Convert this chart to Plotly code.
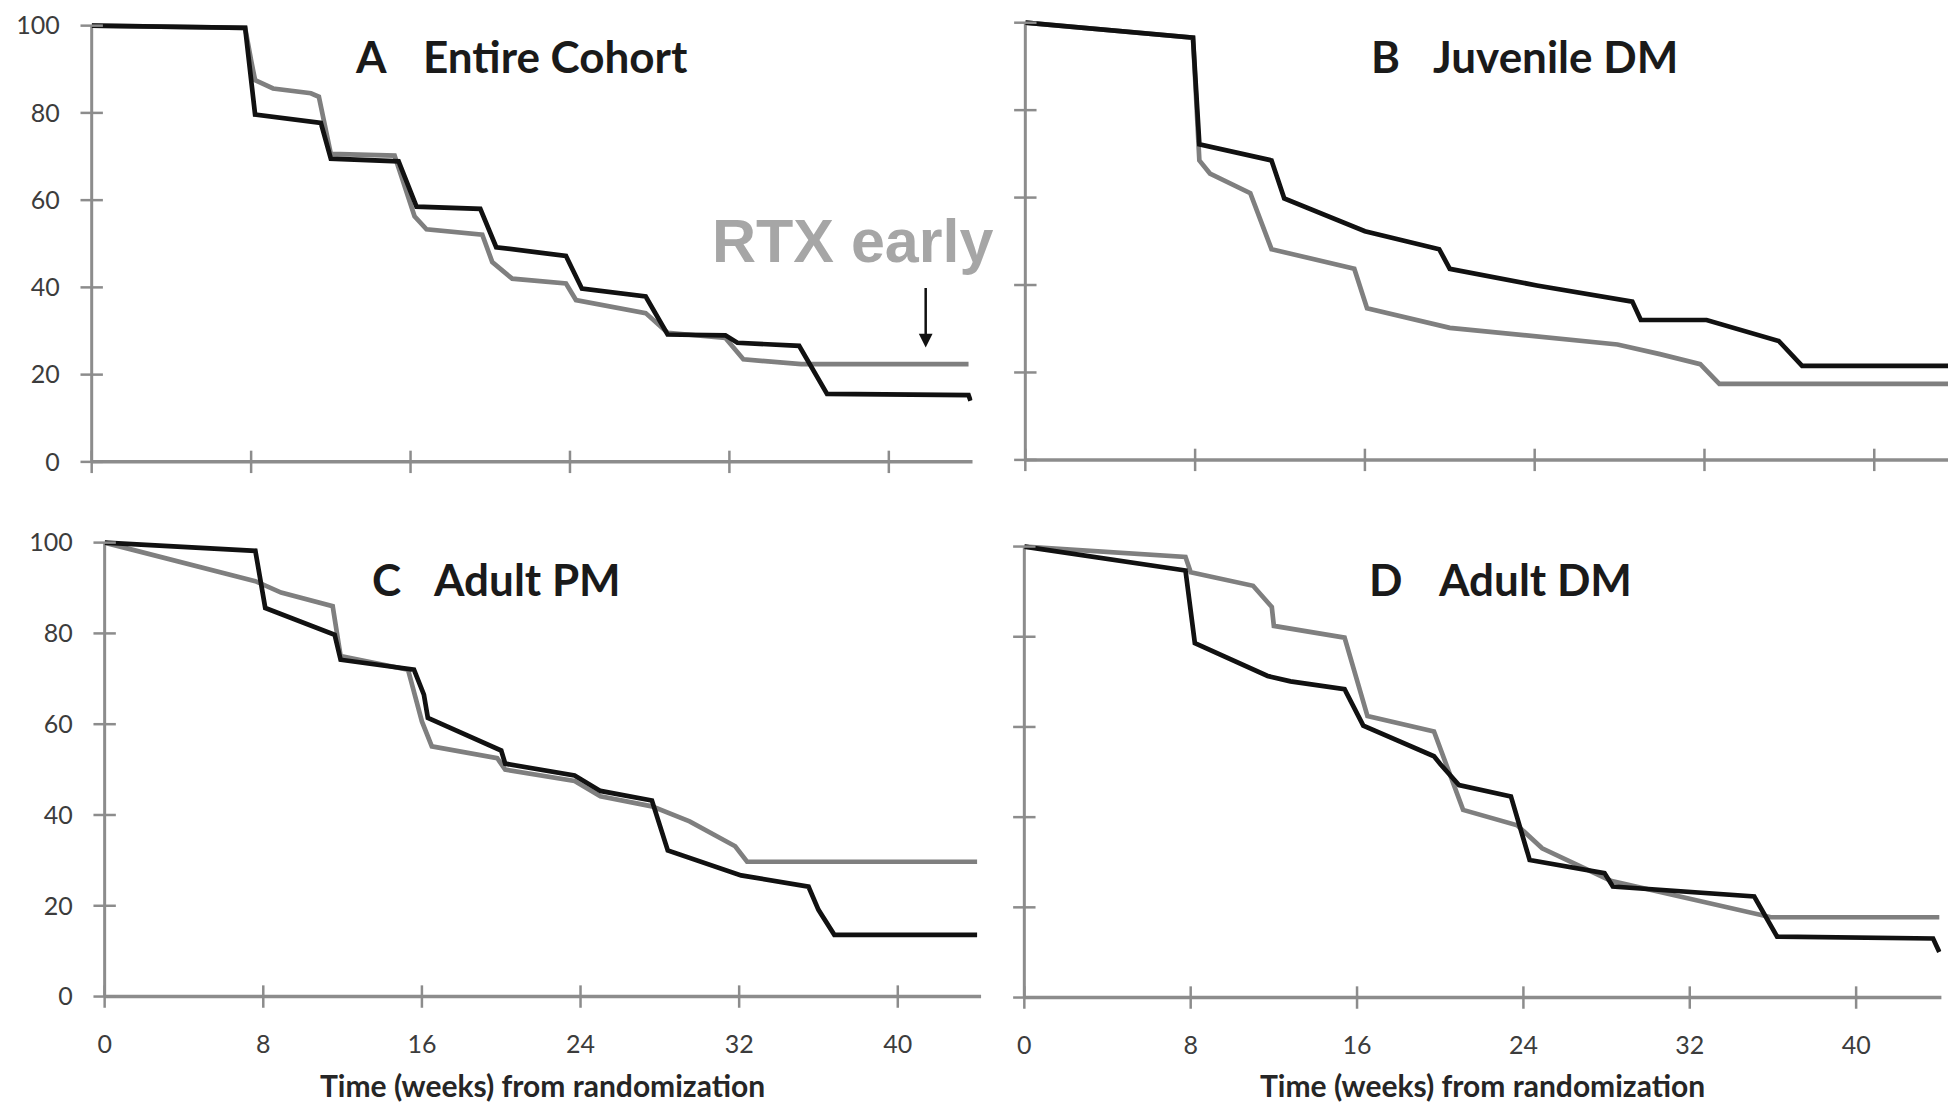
import plotly.graph_objects as go

# ---------------------------------------------------------------
# Kaplan-Meier style curves: % of patients not yet meeting the
# definition of improvement, by time from randomization (weeks)
# "early" = RTX early arm (grey), "late" = RTX late arm (black)
# ---------------------------------------------------------------
WEEK_TICKS = [0, 8, 16, 24, 32, 40]
PCT_TICKS = [0, 20, 40, 60, 80, 100]
AXIS_TITLE = "Time (weeks) from randomization"

# A - Entire cohort
A_late_wk = [0, 7.7, 8.2, 11.5, 12.0, 15.4, 16.3, 19.5, 20.3, 23.8, 24.6, 27.8,
             28.9, 31.8, 32.4, 35.5, 36.9, 44.0, 44.1]
A_late_pct = [100, 99.5, 79.6, 77.7, 69.5, 68.9, 58.5, 58.0, 49.2, 47.2, 39.7, 37.9,
              29.2, 29.0, 27.3, 26.6, 15.6, 15.3, 14.0]
A_early_wk = [0, 7.7, 8.0, 8.2, 9.1, 11.0, 11.4, 12.0, 15.2, 16.2, 16.8, 19.6, 20.1,
              21.1, 23.8, 24.3, 27.8, 28.9, 31.8, 32.7, 35.6, 44.0]
A_early_pct = [100, 99.5, 92.0, 87.5, 85.6, 84.5, 83.7, 70.6, 70.2, 56.3, 53.3, 52.1,
               45.8, 42.0, 40.9, 37.1, 34.1, 29.6, 28.4, 23.5, 22.4, 22.4]

# B - Juvenile DM
B_late_wk = [0, 7.9, 8.2, 11.6, 12.2, 16.0, 19.5, 20.0, 24.1, 28.6, 29.0, 32.1,
             35.5, 36.6, 43.5]
B_late_pct = [100, 96.6, 72.2, 68.5, 59.8, 52.3, 48.2, 43.7, 39.9, 36.2, 32.0, 32.0,
              27.2, 21.5, 21.5]
B_early_wk = [0, 7.9, 8.2, 8.7, 10.6, 11.6, 15.5, 16.1, 20.0, 24.1, 27.9, 29.9,
              31.8, 32.7, 43.5]
B_early_pct = [100, 96.6, 68.5, 65.5, 61.0, 48.2, 43.7, 34.7, 30.2, 28.3, 26.4, 24.2,
               21.9, 17.4, 17.4]

# C - Adult PM
C_late_wk = [0, 7.6, 8.1, 11.6, 11.9, 15.6, 16.1, 16.3, 20.0, 20.2, 23.7, 25.0,
             27.6, 28.4, 32.1, 35.5, 36.0, 36.8, 44.0]
C_late_pct = [100, 98.2, 85.6, 79.7, 74.2, 72.0, 66.5, 61.4, 54.2, 51.3, 48.7, 45.3,
              43.2, 32.2, 26.7, 24.2, 19.1, 13.6, 13.6]
C_early_wk = [0, 7.6, 8.9, 11.5, 11.9, 15.3, 16.0, 16.5, 19.8, 20.2, 23.7, 25.0,
              27.6, 29.5, 31.8, 32.4, 44.0]
C_early_pct = [100, 91.5, 89.0, 86.0, 75.0, 72.0, 60.6, 55.1, 52.5, 50.0, 47.5, 44.1,
               41.9, 38.6, 33.1, 29.7, 29.7]

# D - Adult DM
D_late_wk = [0, 7.75, 8.2, 11.7, 12.8, 15.4, 16.3, 19.7, 20.0, 20.9, 23.4, 24.3,
             27.9, 28.3, 35.1, 36.2, 43.7, 44.0]
D_late_pct = [100, 94.7, 78.6, 71.3, 70.1, 68.4, 60.3, 53.5, 51.8, 47.1, 44.6, 30.5,
              27.6, 24.6, 22.4, 13.5, 13.1, 10.1]
D_early_wk = [0, 7.75, 8.0, 11.0, 11.9, 12.0, 15.4, 16.5, 19.7, 21.1, 23.7, 24.9,
              28.2, 32.0, 35.9, 44.0]
D_early_pct = [100, 97.7, 94.3, 91.3, 86.6, 82.4, 79.8, 62.4, 59.0, 41.6, 38.2, 33.1,
               25.9, 22.0, 17.8, 17.8]

PANEL_LETTERS = ["A", "B", "C", "D"]
PANEL_NAMES = ["Entire Cohort", "Juvenile DM", "Adult PM", "Adult DM"]
SERIES = {
    "A": (A_early_wk, A_early_pct, A_late_wk, A_late_pct),
    "B": (B_early_wk, B_early_pct, B_late_wk, B_late_pct),
    "C": (C_early_wk, C_early_pct, C_late_wk, C_late_pct),
    "D": (D_early_wk, D_early_pct, D_late_wk, D_late_pct),
}

# ---------------------------------------------------------------
# Page geometry (pixels)
# ---------------------------------------------------------------
W, H = 1948, 1111
Y_TOP = 103  # a little head-room so the 100 % lines are not clipped

# left edge of x=0, px per week, x max, baseline px, px per %,
# tick labels on x / y, title letter x, title name x, title y
GEOM = {
    "A": dict(left=85, ppw=20.0, xmax=44.2, base=466, ppu=4.43, xlab=False, ylab=True,
              lx=347, nx=415, ty=54),
    "B": dict(left=1022, ppw=21.3, xmax=(W - 1022) / 21.3, base=464, ppu=4.44,
              xlab=False, ylab=False, lx=1367, nx=1429, ty=54),
    "C": dict(left=98, ppw=19.9, xmax=44.2, base=1009, ppu=4.61, xlab=True, ylab=True,
              lx=364, nx=426, ty=585),
    "D": dict(left=1021, ppw=20.87, xmax=44.1, base=1010, ppu=4.58, xlab=True, ylab=False,
              lx=1365, nx=1434, ty=585),
}

EARLY_GREY = "#7f7f7f"
LATE_BLACK = "#111111"
AXIS_GREY = "#8c8c8c"
TICK_FONT = dict(family="Lato, 'Liberation Sans Narrow', sans-serif", size=25, color="#3c3c3c")
TITLE_FONT = dict(family="Lato, 'Open Sans', sans-serif", size=44, color="#1a1a1a", weight="bold")

fig = go.Figure()
layout = dict(
    width=W, height=H, margin=dict(l=0, r=0, t=0, b=0),
    paper_bgcolor="white", plot_bgcolor="white", showlegend=False,
)
shapes, annotations = [], []

for i, key in enumerate(PANEL_LETTERS):
    g = GEOM[key]
    n = "" if i == 0 else str(i + 1)
    xa, ya = "x" + n, "y" + n
    xkey, ykey = "xaxis" + n, "yaxis" + n

    x0 = g["left"] / W
    x1 = min(1.0, (g["left"] + g["xmax"] * g["ppw"]) / W)
    y0 = 1 - g["base"] / H
    y1 = 1 - (g["base"] - Y_TOP * g["ppu"]) / H

    layout[xkey] = dict(
        domain=[x0, x1], range=[0, g["xmax"]], anchor=ya,
        showgrid=False, zeroline=False, showline=False, ticks="",
        tickvals=WEEK_TICKS, showticklabels=g["xlab"], tickfont=TICK_FONT,
        ticklabelstandoff=30,
    )
    layout[ykey] = dict(
        domain=[y0, y1], range=[0, Y_TOP], anchor=xa,
        showgrid=False, zeroline=False, showline=False, ticks="",
        tickvals=PCT_TICKS, showticklabels=g["ylab"], tickfont=TICK_FONT,
        ticklabelstandoff=31,
    )

    early_wk, early_pct, late_wk, late_pct = SERIES[key]
    fig.add_trace(go.Scatter(
        x=early_wk, y=early_pct, mode="lines", name="RTX early",
        line=dict(color=EARLY_GREY, width=4.7), xaxis=xa, yaxis=ya,
    ))
    fig.add_trace(go.Scatter(
        x=late_wk, y=late_pct, mode="lines", name="RTX late",
        line=dict(color=LATE_BLACK, width=4.7), xaxis=xa, yaxis=ya,
    ))

    # tick marks that cross the axis lines
    fig.add_trace(go.Scatter(
        x=WEEK_TICKS, y=[0] * len(WEEK_TICKS), mode="markers", cliponaxis=False,
        marker=dict(symbol="line-ns", size=16, line=dict(width=2.5, color=AXIS_GREY)),
        hoverinfo="skip", xaxis=xa, yaxis=ya,
    ))
    fig.add_trace(go.Scatter(
        x=[0] * len(PCT_TICKS), y=PCT_TICKS, mode="markers", cliponaxis=False,
        marker=dict(symbol="line-ew", size=16, line=dict(width=2.5, color=AXIS_GREY)),
        hoverinfo="skip", xaxis=xa, yaxis=ya,
    ))

    # axis lines (y axis stops at 100 %)
    shapes.append(dict(type="line", xref=xa + " domain", yref=ya + " domain",
                       x0=0, x1=1, y0=0, y1=0, layer="below",
                       line=dict(color=AXIS_GREY, width=3.5)))
    shapes.append(dict(type="line", xref=xa + " domain", yref=ya + " domain",
                       x0=0, x1=0, y0=0, y1=100 / Y_TOP, layer="below",
                       line=dict(color=AXIS_GREY, width=3)))

    # panel title: letter + subgroup name
    annotations.append(dict(text=key, xref="paper", yref="paper",
                            x=g["lx"] / W, y=1 - g["ty"] / H, xanchor="left", yanchor="middle",
                            showarrow=False, font=TITLE_FONT))
    annotations.append(dict(text=PANEL_NAMES[i], xref="paper", yref="paper",
                            x=g["nx"] / W, y=1 - g["ty"] / H, xanchor="left", yanchor="middle",
                            showarrow=False, font=TITLE_FONT))

    if g["xlab"]:
        annotations.append(dict(text=AXIS_TITLE, xref=xa + " domain", yref="paper",
                                x=0.5, y=1 - 1099 / H, xanchor="center", yanchor="middle",
                                showarrow=False,
                                font=dict(family="Lato, sans-serif", size=30,
                                          color="#262626", weight="bold")))

# "RTX early" call-out on the entire cohort panel
annotations.append(dict(text="RTX early", xref="paper", yref="paper",
                        x=849 / W, y=1 - 242 / H, xanchor="center", yanchor="middle",
                        showarrow=False,
                        font=dict(family="'Liberation Sans', Arial, sans-serif", size=61,
                                  color="#a6a6a6", weight="bold")))
annotations.append(dict(text="", x=41.85, y=26.2, xref="x", yref="y",
                        ax=41.85, ay=40.2, axref="x", ayref="y",
                        showarrow=True, arrowhead=2, arrowsize=1.1, arrowwidth=2.5,
                        arrowcolor="#111111"))

layout["shapes"] = shapes
layout["annotations"] = annotations
fig.update_layout(**layout)

fig.write_html("out.html")
